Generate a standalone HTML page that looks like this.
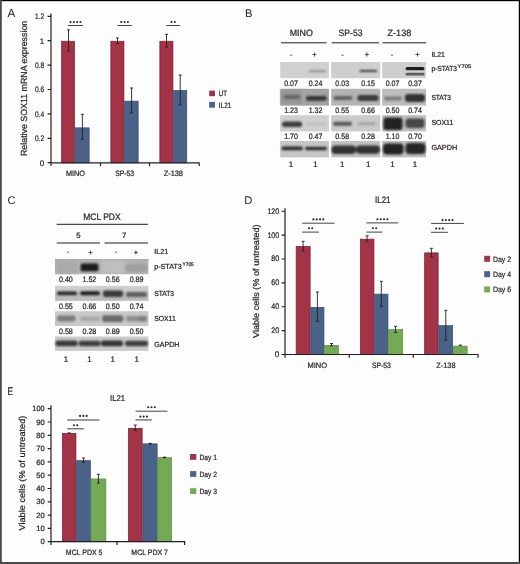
<!DOCTYPE html>
<html><head><meta charset="utf-8">
<style>
html,body{margin:0;padding:0;background:#fff;}
body{width:520px;height:564px;overflow:hidden;}
svg{display:block;font-family:"Liberation Sans",sans-serif;will-change:transform;text-rendering:geometricPrecision;}
svg text{fill:#231f20;stroke:#231f20;stroke-width:0.22px;}
svg text.pl{stroke:none;}
</style></head>
<body>
<svg width="520" height="564" viewBox="0 0 520 564">
<defs>
<filter id="bl" x="-20%" y="-50%" width="140%" height="200%"><feGaussianBlur stdDeviation="1"/></filter>
<filter id="bl2" x="-20%" y="-50%" width="140%" height="200%"><feGaussianBlur stdDeviation="0.6"/></filter>
</defs>
<rect x="0" y="0" width="520" height="564" fill="#fdfdfd"/>
<rect x="0" y="0" width="520" height="1.2" fill="#000"/>
<rect x="518.8" y="0" width="1.2" height="564" fill="#000"/>
<rect x="0" y="0" width="1.8" height="564" fill="#4a4a4a"/>
<rect x="0" y="562" width="520" height="2" fill="#4a4a4a"/>

<g id="A">
<text x="7.6" y="16.9" font-size="11.6" class="pl">A</text>
<rect x="61.55" y="41.25" width="13.0" height="121.55" fill="#a33346" stroke="#7f1d2f" stroke-width="0.7"/>
<rect x="110.85" y="41.25" width="13.1" height="121.55" fill="#a33346" stroke="#7f1d2f" stroke-width="0.7"/>
<rect x="159.85" y="41.25" width="13.1" height="121.55" fill="#a33346" stroke="#7f1d2f" stroke-width="0.7"/>
<rect x="75.25" y="127.85" width="13.9" height="34.95" fill="#4b6288" stroke="#364b70" stroke-width="0.7"/>
<rect x="124.65" y="101.15" width="13.5" height="61.65" fill="#4b6288" stroke="#364b70" stroke-width="0.7"/>
<rect x="173.65" y="90.55" width="13.1" height="72.25" fill="#4b6288" stroke="#364b70" stroke-width="0.7"/>
<path d="M51 13.4V163.4M47.6 16.3H51M47.6 40.7H51M47.6 65.1H51M47.6 89.5H51M47.6 113.9H51M47.6 138.3H51M47.6 162.7H51M50.4 162.8H199.8M51 162.8V166M100.5 162.8V166M149.5 162.8V166M199.2 162.8V166" stroke="#231f20" stroke-width="1.2" fill="none"/>
<path d="M68.5 29.8V51M67.0 29.8H70.0M67.0 51H70.0M82.4 114.3V139.3M80.9 114.3H83.9M80.9 139.3H83.9M117.5 38V43.6M116.0 38H119.0M116.0 43.6H119.0M131.6 88V113M130.1 88H133.1M130.1 113H133.1M166.5 34.3V47M165.0 34.3H168.0M165.0 47H168.0M180.2 75V105M178.7 75H181.7M178.7 105H181.7" stroke="#231f20" stroke-width="0.9" fill="none"/>
<path d="M68.1 25.5H82.9" stroke="#444" stroke-width="1.0"/><g fill="#262626"><circle cx="70.55" cy="22" r="1.05"/><circle cx="73.85" cy="22" r="1.05"/><circle cx="77.15" cy="22" r="1.05"/><circle cx="80.45" cy="22" r="1.05"/></g>
<path d="M117.3 25.5H131.8" stroke="#444" stroke-width="1.0"/><g fill="#262626"><circle cx="121.25" cy="22" r="1.05"/><circle cx="124.55" cy="22" r="1.05"/><circle cx="127.85" cy="22" r="1.05"/></g>
<path d="M166.3 25.5H180.1" stroke="#444" stroke-width="1.0"/><g fill="#262626"><circle cx="171.55" cy="22" r="1.05"/><circle cx="174.85" cy="22" r="1.05"/></g>
<g font-size="8" text-anchor="end">
<text x="44.2" y="19.1" font-size="8" textLength="9.2" lengthAdjust="spacingAndGlyphs">1.2</text>
<text x="44.2" y="43.5" font-size="8">1</text>
<text x="44.2" y="67.9" font-size="8" textLength="9.2" lengthAdjust="spacingAndGlyphs">0.8</text>
<text x="44.2" y="92.3" font-size="8" textLength="9.2" lengthAdjust="spacingAndGlyphs">0.6</text>
<text x="44.2" y="116.7" font-size="8" textLength="9.2" lengthAdjust="spacingAndGlyphs">0.4</text>
<text x="44.2" y="141.1" font-size="8" textLength="9.2" lengthAdjust="spacingAndGlyphs">0.2</text>
<text x="44.2" y="165.5" font-size="8">0</text>
</g>
<text transform="translate(27.3 156) rotate(-90)" font-size="8.9" textLength="135.2" lengthAdjust="spacingAndGlyphs">Relative SOX11 mRNA expression</text>
<text x="65.9" y="176.2" font-size="7.8" textLength="19.1" lengthAdjust="spacingAndGlyphs">MINO</text>
<text x="115.2" y="176.2" font-size="7.8" textLength="18.8" lengthAdjust="spacingAndGlyphs">SP-53</text>
<text x="163.7" y="176.2" font-size="7.8" textLength="19.3" lengthAdjust="spacingAndGlyphs">Z-138</text>
<rect x="209.2" y="90.6" width="5.8" height="5.6" fill="#a33346"/>
<rect x="209.2" y="101.9" width="5.8" height="5.8" fill="#4b6288"/>
<text x="218.8" y="96.2" font-size="7.8" textLength="8.2" lengthAdjust="spacingAndGlyphs">UT</text>
<text x="218.8" y="107.6" font-size="7.8" textLength="12.6" lengthAdjust="spacingAndGlyphs">IL21</text>
</g>
<g id="B">
<text x="245" y="17.3" font-size="11.2" class="pl">B</text>
<text x="289.7" y="35.5" font-size="9.2" textLength="23.1" lengthAdjust="spacingAndGlyphs">MINO</text>
<text x="338.6" y="35.5" font-size="9.2" textLength="24" lengthAdjust="spacingAndGlyphs">SP-53</text>
<text x="387.5" y="35.5" font-size="9.2" textLength="23.8" lengthAdjust="spacingAndGlyphs">Z-138</text>
<path d="M281 42.8H326.6M331.7 42.8H379M382.5 42.8H426.2" stroke="#231f20" stroke-width="1"/>
<text x="291.2" y="56.5" font-size="7.4" text-anchor="middle">-</text>
<text x="314.3" y="57" font-size="7.4" text-anchor="middle">+</text>
<text x="342.4" y="56.5" font-size="7.4" text-anchor="middle">-</text>
<text x="366.9" y="57" font-size="7.4" text-anchor="middle">+</text>
<text x="392" y="56.5" font-size="7.4" text-anchor="middle">-</text>
<text x="417.5" y="57" font-size="7.4" text-anchor="middle">+</text>
<text x="431.4" y="56.7" font-size="7.3" textLength="13.6" lengthAdjust="spacingAndGlyphs">IL21</text>
<text x="431.4" y="71" font-size="7.3" textLength="25.5" lengthAdjust="spacingAndGlyphs">p-STAT3</text>
<text x="457.6" y="67.7" font-size="5.2" textLength="13.6" lengthAdjust="spacingAndGlyphs">Y705</text>
<text x="431.4" y="100.3" font-size="7.3" textLength="19.6" lengthAdjust="spacingAndGlyphs">STAT3</text>
<text x="431.4" y="124.7" font-size="7.3" textLength="21.9" lengthAdjust="spacingAndGlyphs">SOX11</text>
<text x="431.4" y="150.4" font-size="7.3" textLength="25.8" lengthAdjust="spacingAndGlyphs">GAPDH</text>
<rect x="280.2" y="62" width="48.7" height="16.2" fill="#d0d0d0"/>
<rect x="331.2" y="62" width="49" height="16.2" fill="#cecece"/>
<rect x="382.2" y="62" width="43.8" height="16.2" fill="#cecece"/>
<rect x="280.2" y="88.8" width="48.7" height="16.8" fill="#a2a2a2"/>
<rect x="331.2" y="88.8" width="49" height="16.8" fill="#b4b4b4"/>
<rect x="382.2" y="88.8" width="43.8" height="16.8" fill="#bdbdbd"/>
<rect x="280.2" y="115.2" width="48.7" height="16.2" fill="#cfcfcf"/>
<rect x="331.2" y="115.2" width="49" height="16.2" fill="#cacaca"/>
<rect x="382.2" y="115.2" width="43.8" height="16.2" fill="#c0c0c0"/>
<rect x="280.2" y="141" width="48.7" height="16.4" fill="#c6c6c6"/>
<rect x="331.2" y="141" width="49" height="16.4" fill="#c2c2c2"/>
<rect x="382.2" y="141" width="43.8" height="16.4" fill="#bfbfbf"/>
<g filter="url(#bl)">
<rect x="308.5" y="70.2" width="17.5" height="2" rx="1" fill="#8a8a8a"/>
<rect x="359.5" y="70" width="17.5" height="2" rx="1" fill="#3a3a3a"/>
</g>
<g filter="url(#bl2)">
<rect x="405.6" y="66.9" width="18.8" height="3.3" rx="1.5" fill="#1c1c1c"/>
<rect x="405.6" y="72.8" width="18.8" height="2.6" rx="1.2" fill="#5c5c5c"/>
</g>
<g filter="url(#bl)">
<rect x="281" y="90" width="22" height="14" fill="#969696"/>
<rect x="283.5" y="94.8" width="17" height="4.4" rx="2" fill="#686868"/>
<rect x="302.6" y="89" width="1.2" height="16" fill="#b2b2b2"/>
<rect x="305.8" y="96" width="21" height="4.8" rx="2.2" fill="#363636"/>
<rect x="333.5" y="96" width="19" height="4" rx="2" fill="#5e5e5e"/>
<rect x="357.5" y="95" width="21" height="6" rx="2.5" fill="#3a3a3a"/>
<rect x="384" y="96.5" width="18" height="4" rx="2" fill="#7a7a7a"/>
<rect x="405" y="94" width="20" height="8" rx="3" fill="#333"/>
<rect x="282" y="121.5" width="20" height="5.5" rx="2.5" fill="#3e3e3e"/>
<rect x="306" y="122.5" width="20" height="3" rx="1.5" fill="#c0c0c0"/>
<rect x="333" y="121.8" width="19" height="4" rx="2" fill="#555"/>
<rect x="358" y="122.3" width="18" height="3" rx="1.5" fill="#a4a4a4"/>
<rect x="383.5" y="117.5" width="19" height="12.5" rx="3" fill="#222"/>
<rect x="405.5" y="118.5" width="19" height="9.5" rx="3" fill="#474747"/>
<rect x="281.5" y="146.5" width="21.5" height="3.7" rx="1.8" fill="#2e2e2e"/>
<rect x="305" y="146.7" width="22" height="3.5" rx="1.7" fill="#2e2e2e"/>
<rect x="331.5" y="145.6" width="24.5" height="8.4" rx="4" fill="#333"/>
<rect x="356" y="145.4" width="24" height="8.4" rx="4" fill="#333"/>
<rect x="383" y="143.5" width="20.5" height="11" rx="4" fill="#222"/>
<rect x="405.5" y="143" width="20" height="11" rx="4" fill="#262626"/>
</g>
<text x="291" y="85.7" font-size="7.9" textLength="13.7" lengthAdjust="spacingAndGlyphs" text-anchor="middle">0.07</text>
<text x="315.5" y="85.7" font-size="7.9" textLength="13.7" lengthAdjust="spacingAndGlyphs" text-anchor="middle">0.24</text>
<text x="342.2" y="85.7" font-size="7.9" textLength="13.7" lengthAdjust="spacingAndGlyphs" text-anchor="middle">0.03</text>
<text x="368.1" y="85.7" font-size="7.9" textLength="13.7" lengthAdjust="spacingAndGlyphs" text-anchor="middle">0.15</text>
<text x="392.5" y="85.7" font-size="7.9" textLength="13.7" lengthAdjust="spacingAndGlyphs" text-anchor="middle">0.07</text>
<text x="415" y="85.7" font-size="7.9" textLength="13.7" lengthAdjust="spacingAndGlyphs" text-anchor="middle">0.37</text>
<text x="291" y="113.4" font-size="7.9" textLength="13.7" lengthAdjust="spacingAndGlyphs" text-anchor="middle">1.23</text>
<text x="315.5" y="113.4" font-size="7.9" textLength="13.7" lengthAdjust="spacingAndGlyphs" text-anchor="middle">1.32</text>
<text x="342.2" y="113.4" font-size="7.9" textLength="13.7" lengthAdjust="spacingAndGlyphs" text-anchor="middle">0.55</text>
<text x="368.1" y="113.4" font-size="7.9" textLength="13.7" lengthAdjust="spacingAndGlyphs" text-anchor="middle">0.66</text>
<text x="392.5" y="113.4" font-size="7.9" textLength="13.7" lengthAdjust="spacingAndGlyphs" text-anchor="middle">0.50</text>
<text x="415" y="113.4" font-size="7.9" textLength="13.7" lengthAdjust="spacingAndGlyphs" text-anchor="middle">0.74</text>
<text x="291" y="138.7" font-size="7.9" textLength="13.7" lengthAdjust="spacingAndGlyphs" text-anchor="middle">1.70</text>
<text x="315.5" y="138.7" font-size="7.9" textLength="13.7" lengthAdjust="spacingAndGlyphs" text-anchor="middle">0.47</text>
<text x="342.2" y="138.7" font-size="7.9" textLength="13.7" lengthAdjust="spacingAndGlyphs" text-anchor="middle">0.58</text>
<text x="368.1" y="138.7" font-size="7.9" textLength="13.7" lengthAdjust="spacingAndGlyphs" text-anchor="middle">0.28</text>
<text x="392.5" y="138.7" font-size="7.9" textLength="13.7" lengthAdjust="spacingAndGlyphs" text-anchor="middle">1.10</text>
<text x="415" y="138.7" font-size="7.9" textLength="13.7" lengthAdjust="spacingAndGlyphs" text-anchor="middle">0.70</text>
<text x="291" y="167" font-size="7.9" text-anchor="middle">1</text>
<text x="315.5" y="167" font-size="7.9" text-anchor="middle">1</text>
<text x="342.2" y="167" font-size="7.9" text-anchor="middle">1</text>
<text x="368.1" y="167" font-size="7.9" text-anchor="middle">1</text>
<text x="392.5" y="167" font-size="7.9" text-anchor="middle">1</text>
<text x="415" y="167" font-size="7.9" text-anchor="middle">1</text>
</g>
<g id="C">
<text x="7.6" y="204.3" font-size="11.2" class="pl">C</text>
<text x="83.2" y="219.6" font-size="9.4" textLength="37.5" lengthAdjust="spacingAndGlyphs">MCL PDX</text>
<path d="M56.7 224.3H148M56.7 243H100M104.5 243H148" stroke="#231f20" stroke-width="1"/>
<text x="78.3" y="237.8" font-size="7.8" text-anchor="middle">5</text>
<text x="124.2" y="237.8" font-size="7.8" text-anchor="middle">7</text>
<text x="68" y="254.1" font-size="7.4" text-anchor="middle">-</text>
<text x="90.4" y="254.6" font-size="7.4" text-anchor="middle">+</text>
<text x="116.1" y="254.1" font-size="7.4" text-anchor="middle">-</text>
<text x="136" y="254.6" font-size="7.4" text-anchor="middle">+</text>
<text x="154.2" y="254.3" font-size="7.3" textLength="14" lengthAdjust="spacingAndGlyphs">IL21</text>
<text x="154.2" y="269.2" font-size="7.3" textLength="27.6" lengthAdjust="spacingAndGlyphs">p-STAT3</text>
<text x="182.5" y="266.1" font-size="5.2" textLength="11.3" lengthAdjust="spacingAndGlyphs">Y705</text>
<text x="154.2" y="296.4" font-size="7.3" textLength="19.8" lengthAdjust="spacingAndGlyphs">STAT3</text>
<text x="154.2" y="321.2" font-size="7.3" textLength="21.5" lengthAdjust="spacingAndGlyphs">SOX11</text>
<text x="154.2" y="346.5" font-size="7.3" textLength="25.2" lengthAdjust="spacingAndGlyphs">GAPDH</text>
<linearGradient id="gC2" x1="0" y1="0" x2="0" y2="1"><stop offset="0" stop-color="#d2d2d2"/><stop offset="1" stop-color="#b9b9b9"/></linearGradient>
<rect x="55" y="259.2" width="93.4" height="15" fill="#b5b5b5"/>
<rect x="55" y="259.2" width="93.4" height="1.2" fill="#a9a9a9"/>
<rect x="55" y="285.8" width="93.4" height="15" fill="url(#gC2)"/>
<rect x="55" y="311.2" width="93.4" height="14.8" fill="#c9c9c9"/>
<rect x="55" y="336.5" width="93.4" height="14.5" fill="#cbcbcb"/>
<g filter="url(#bl)">
<rect x="56" y="260.5" width="22" height="13" fill="#ababab"/>
<rect x="80.6" y="263.6" width="17.8" height="7.6" rx="1.5" fill="#1a1a1a"/>
<rect x="104" y="261" width="20" height="12" fill="#bfbfbf"/>
<rect x="125.5" y="263.8" width="21.5" height="8.4" rx="3" fill="#a0a0a0"/>
<rect x="57" y="291.5" width="20" height="3.8" rx="1.5" fill="#262626"/>
<rect x="80" y="291.2" width="20" height="4" rx="1.8" fill="#1e1e1e"/>
<rect x="103" y="290.5" width="20" height="6.5" rx="2" fill="#3a3a3a"/>
<rect x="126" y="292" width="21" height="5" rx="2" fill="#5e5e5e"/>
<rect x="57" y="315.6" width="18.5" height="5.8" rx="2.5" fill="#7a7a7a"/>
<rect x="80" y="316.5" width="20" height="4.5" rx="2" fill="#a8a8a8"/>
<rect x="102" y="315.2" width="21.5" height="6.8" rx="3" fill="#6a6a6a"/>
<rect x="126" y="316" width="21" height="5.5" rx="2.5" fill="#8e8e8e"/>
<rect x="138" y="316" width="9" height="5.5" rx="2.5" fill="#808080"/>
<rect x="55.5" y="340.6" width="22" height="5.6" rx="2.5" fill="#383838"/>
<rect x="78.5" y="340.8" width="22" height="5.4" rx="2.5" fill="#3e3e3e"/>
<rect x="101" y="340.4" width="22" height="5.9" rx="2.5" fill="#333"/>
<rect x="125" y="340.8" width="23" height="5.4" rx="2.5" fill="#3e3e3e"/>
</g>
<rect x="102.4" y="259.2" width="1" height="15" fill="#c9c9c9" opacity="0.7"/>
<text x="65.9" y="281.8" font-size="7.9" textLength="13.9" lengthAdjust="spacingAndGlyphs" text-anchor="middle">0.40</text>
<text x="89.4" y="281.8" font-size="7.9" textLength="13.9" lengthAdjust="spacingAndGlyphs" text-anchor="middle">1.52</text>
<text x="112.8" y="281.8" font-size="7.9" textLength="13.9" lengthAdjust="spacingAndGlyphs" text-anchor="middle">0.56</text>
<text x="136.6" y="281.8" font-size="7.9" textLength="13.9" lengthAdjust="spacingAndGlyphs" text-anchor="middle">0.89</text>
<text x="65.9" y="309" font-size="7.9" textLength="13.9" lengthAdjust="spacingAndGlyphs" text-anchor="middle">0.55</text>
<text x="89.4" y="309" font-size="7.9" textLength="13.9" lengthAdjust="spacingAndGlyphs" text-anchor="middle">0.66</text>
<text x="112.8" y="309" font-size="7.9" textLength="13.9" lengthAdjust="spacingAndGlyphs" text-anchor="middle">0.50</text>
<text x="136.6" y="309" font-size="7.9" textLength="13.9" lengthAdjust="spacingAndGlyphs" text-anchor="middle">0.74</text>
<text x="65.9" y="333.8" font-size="7.9" textLength="13.9" lengthAdjust="spacingAndGlyphs" text-anchor="middle">0.58</text>
<text x="89.4" y="333.8" font-size="7.9" textLength="13.9" lengthAdjust="spacingAndGlyphs" text-anchor="middle">0.28</text>
<text x="112.8" y="333.8" font-size="7.9" textLength="13.9" lengthAdjust="spacingAndGlyphs" text-anchor="middle">0.89</text>
<text x="136.6" y="333.8" font-size="7.9" textLength="13.9" lengthAdjust="spacingAndGlyphs" text-anchor="middle">0.50</text>
<text x="65.9" y="361.5" font-size="7.9" text-anchor="middle">1</text>
<text x="89.4" y="361.5" font-size="7.9" text-anchor="middle">1</text>
<text x="112.8" y="361.5" font-size="7.9" text-anchor="middle">1</text>
<text x="136.6" y="361.5" font-size="7.9" text-anchor="middle">1</text>
</g>
<g id="D">
<text x="244.3" y="203.8" font-size="11.2" class="pl">D</text>
<text x="375" y="203.1" font-size="9.4" textLength="15.5" lengthAdjust="spacingAndGlyphs">IL21</text>
<rect x="296.15" y="246.35" width="14.0" height="108.15" fill="#a33346" stroke="#7f1d2f" stroke-width="0.7"/>
<rect x="310.85" y="307.35" width="13.1" height="47.15" fill="#4b6288" stroke="#364b70" stroke-width="0.7"/>
<rect x="324.65" y="345.35" width="13.8" height="9.15" fill="#74a955" stroke="#5a8f3b" stroke-width="0.7"/>
<rect x="360.35" y="239.15" width="13.6" height="115.35" fill="#a33346" stroke="#7f1d2f" stroke-width="0.7"/>
<rect x="374.65" y="294.15" width="13.3" height="60.35" fill="#4b6288" stroke="#364b70" stroke-width="0.7"/>
<rect x="388.65" y="329.65" width="14.0" height="24.85" fill="#74a955" stroke="#5a8f3b" stroke-width="0.7"/>
<rect x="424.65" y="252.85" width="13.5" height="101.65" fill="#a33346" stroke="#7f1d2f" stroke-width="0.7"/>
<rect x="438.85" y="325.65" width="13.8" height="28.85" fill="#4b6288" stroke="#364b70" stroke-width="0.7"/>
<rect x="453.35" y="346.15" width="13.8" height="8.35" fill="#74a955" stroke="#5a8f3b" stroke-width="0.7"/>
<path d="M285 208.3V355.1M281.6 211.25H285M281.6 235.12H285M281.6 259.0H285M281.6 282.88H285M281.6 306.75H285M281.6 330.62H285M281.6 354.5H285M284.4 354.5H478.6M285 354.5V357.8M349.3 354.5V357.8M413.3 354.5V357.8M478 354.5V357.8" stroke="#231f20" stroke-width="1.2" fill="none"/>
<path d="M303.1 241.3V251M301.6 241.3H304.6M301.6 251H304.6M317.4 292V321.3M315.9 292H318.9M315.9 321.3H318.9M331.5 343.5V345.8M330.0 343.5H333.0M330.0 345.8H333.0M367.1 235.8V241.3M365.6 235.8H368.6M365.6 241.3H368.6M381.3 281.3V306.3M379.8 281.3H382.8M379.8 306.3H382.8M395.6 326.3V332.5M394.1 326.3H397.1M394.1 332.5H397.1M431.4 248.3V257M429.9 248.3H432.9M429.9 257H432.9M445.8 310.3V340M444.3 310.3H447.3M444.3 340H447.3" stroke="#231f20" stroke-width="0.9" fill="none"/><rect x="458.8" y="344.6" width="3.0" height="1.2" fill="#1a1a1a"/>
<path d="M302.2 223.2H334.5" stroke="#444" stroke-width="1.0"/><g fill="#262626"><circle cx="313.4" cy="219.4" r="1.05"/><circle cx="316.7" cy="219.4" r="1.05"/><circle cx="320.0" cy="219.4" r="1.05"/><circle cx="323.3" cy="219.4" r="1.05"/></g>
<path d="M302.2 232.1H318.9" stroke="#444" stroke-width="1.0"/><g fill="#262626"><circle cx="308.9" cy="228.2" r="1.05"/><circle cx="312.2" cy="228.2" r="1.05"/></g>
<path d="M366.5 222.9H398.3" stroke="#444" stroke-width="1.0"/><g fill="#262626"><circle cx="377.45" cy="219.2" r="1.05"/><circle cx="380.75" cy="219.2" r="1.05"/><circle cx="384.05" cy="219.2" r="1.05"/><circle cx="387.35" cy="219.2" r="1.05"/></g>
<path d="M366.5 232.1H382.5" stroke="#444" stroke-width="1.0"/><g fill="#262626"><circle cx="372.85" cy="228.2" r="1.05"/><circle cx="376.15" cy="228.2" r="1.05"/></g>
<path d="M431.1 223.4H463.9" stroke="#444" stroke-width="1.0"/><g fill="#262626"><circle cx="442.55" cy="220.1" r="1.05"/><circle cx="445.85" cy="220.1" r="1.05"/><circle cx="449.15" cy="220.1" r="1.05"/><circle cx="452.45" cy="220.1" r="1.05"/></g>
<path d="M431.1 232.3H447.9" stroke="#444" stroke-width="1.0"/><g fill="#262626"><circle cx="436.2" cy="228.6" r="1.05"/><circle cx="439.5" cy="228.6" r="1.05"/><circle cx="442.8" cy="228.6" r="1.05"/></g>
<g text-anchor="end">
<text x="279.2" y="213.65" font-size="8.1" textLength="11.8" lengthAdjust="spacingAndGlyphs">120</text>
<text x="279.2" y="237.53" font-size="8.1" textLength="11.8" lengthAdjust="spacingAndGlyphs">100</text>
<text x="279.2" y="261.4" font-size="8.1" textLength="7.9" lengthAdjust="spacingAndGlyphs">80</text>
<text x="279.2" y="285.27" font-size="8.1" textLength="7.9" lengthAdjust="spacingAndGlyphs">60</text>
<text x="279.2" y="309.15" font-size="8.1" textLength="7.9" lengthAdjust="spacingAndGlyphs">40</text>
<text x="279.2" y="333.02" font-size="8.1" textLength="7.9" lengthAdjust="spacingAndGlyphs">20</text>
<text x="279.2" y="356.9" font-size="8.1">0</text>
</g>
<text transform="translate(258.6 338) rotate(-90)" font-size="8.6" textLength="113.6" lengthAdjust="spacingAndGlyphs">Viable cells (% of untreated)</text>
<text x="307.5" y="367.7" font-size="7.8" textLength="19.5" lengthAdjust="spacingAndGlyphs">MINO</text>
<text x="372" y="367.7" font-size="7.8" textLength="18.8" lengthAdjust="spacingAndGlyphs">SP-53</text>
<text x="436.3" y="367.7" font-size="7.8" textLength="19.2" lengthAdjust="spacingAndGlyphs">Z-138</text>
<rect x="484.2" y="255.8" width="5.9" height="6" fill="#a33346"/><rect x="484.2" y="271.2" width="5.9" height="6" fill="#4b6288"/><rect x="484.2" y="286.5" width="5.9" height="5.9" fill="#74a955"/>
<text x="493" y="261.6" font-size="7.8" textLength="18" lengthAdjust="spacingAndGlyphs">Day 2</text>
<text x="493" y="277" font-size="7.8" textLength="18" lengthAdjust="spacingAndGlyphs">Day 4</text>
<text x="493" y="292.3" font-size="7.8" textLength="18" lengthAdjust="spacingAndGlyphs">Day 6</text>
</g>
<g id="E">
<text x="7.6" y="395" font-size="11.2" textLength="5.6" lengthAdjust="spacingAndGlyphs">E</text>
<text x="110" y="401.3" font-size="8.4" textLength="15" lengthAdjust="spacingAndGlyphs">IL21</text>
<rect x="62.35" y="433.35" width="13.6" height="108.35" fill="#a33346" stroke="#7f1d2f" stroke-width="0.7"/>
<rect x="76.65" y="460.65" width="13.8" height="81.05" fill="#4b6288" stroke="#364b70" stroke-width="0.7"/>
<rect x="91.15" y="478.95" width="14.7" height="62.75" fill="#74a955" stroke="#5a8f3b" stroke-width="0.7"/>
<rect x="128.35" y="428.35" width="13.8" height="113.35" fill="#a33346" stroke="#7f1d2f" stroke-width="0.7"/>
<rect x="142.85" y="443.85" width="14.3" height="97.85" fill="#4b6288" stroke="#364b70" stroke-width="0.7"/>
<rect x="157.85" y="457.65" width="13.8" height="84.05" fill="#74a955" stroke="#5a8f3b" stroke-width="0.7"/>
<path d="M51 405.3V542.3M47.7 408.7H51M47.7 422.0H51M47.7 435.3H51M47.7 448.6H51M47.7 461.9H51M47.7 475.2H51M47.7 488.5H51M47.7 501.8H51M47.7 515.1H51M47.7 528.4H51M47.7 541.7H51M50.4 541.7H185.2M51 541.7V545M117 541.7V545M184.6 541.7V545" stroke="#231f20" stroke-width="1.2" fill="none"/>
<path d="M83.5 458V462.5M82.0 458H85.0M82.0 462.5H85.0M98.4 474.3V483M96.9 474.3H99.9M96.9 483H99.9M135.3 425V430.3M133.8 425H136.8M133.8 430.3H136.8" stroke="#231f20" stroke-width="0.9" fill="none"/><rect x="67.6" y="432.4" width="3.0" height="1.2" fill="#1a1a1a"/><rect x="148.6" y="442.9" width="3.0" height="1.4" fill="#1a1a1a"/><rect x="162.9" y="456.7" width="3.0" height="1.4" fill="#1a1a1a"/>
<path d="M67.3 419.9H99.4" stroke="#7a7a7a" stroke-width="1.5"/><g fill="#262626"><circle cx="80.05" cy="415.9" r="1.05"/><circle cx="83.35" cy="415.9" r="1.05"/><circle cx="86.65" cy="415.9" r="1.05"/></g>
<path d="M67.3 428.75H83.8" stroke="#7a7a7a" stroke-width="1.5"/><g fill="#262626"><circle cx="73.9" cy="425.2" r="1.05"/><circle cx="77.2" cy="425.2" r="1.05"/></g>
<path d="M135.5 411.2H167.5" stroke="#444" stroke-width="1.0"/><g fill="#262626"><circle cx="148.2" cy="407.3" r="1.05"/><circle cx="151.5" cy="407.3" r="1.05"/><circle cx="154.8" cy="407.3" r="1.05"/></g>
<path d="M135.5 419.9H151.8" stroke="#7a7a7a" stroke-width="1.5"/><g fill="#262626"><circle cx="140.35" cy="416.6" r="1.05"/><circle cx="143.65" cy="416.6" r="1.05"/><circle cx="146.95" cy="416.6" r="1.05"/></g>
<g text-anchor="end">
<text x="44.7" y="411.3" font-size="7.7" textLength="12.4" lengthAdjust="spacingAndGlyphs">100</text>
<text x="44.7" y="424.6" font-size="7.7">90</text>
<text x="44.7" y="437.9" font-size="7.7">80</text>
<text x="44.7" y="451.2" font-size="7.7">70</text>
<text x="44.7" y="464.5" font-size="7.7">60</text>
<text x="44.7" y="477.8" font-size="7.7">50</text>
<text x="44.7" y="491.1" font-size="7.7">40</text>
<text x="44.7" y="504.4" font-size="7.7">30</text>
<text x="44.7" y="517.7" font-size="7.7">20</text>
<text x="44.7" y="531.0" font-size="7.7">10</text>
<text x="44.7" y="544.3" font-size="7.7">0</text>
</g>
<text transform="translate(25 530.6) rotate(-90)" font-size="8.6" textLength="115" lengthAdjust="spacingAndGlyphs">Viable cells (% of untreated)</text>
<text x="65.8" y="554.8" font-size="7.8" textLength="36.7" lengthAdjust="spacingAndGlyphs">MCL PDX 5</text>
<text x="131.3" y="554.8" font-size="7.8" textLength="36.7" lengthAdjust="spacingAndGlyphs">MCL PDX 7</text>
<rect x="190.1" y="454" width="6.2" height="5.8" fill="#a33346"/><rect x="190.1" y="471.1" width="6.2" height="5.8" fill="#4b6288"/><rect x="190.1" y="488.2" width="6.2" height="5.8" fill="#74a955"/>
<text x="199.4" y="459.5" font-size="7.6" textLength="17.6" lengthAdjust="spacingAndGlyphs">Day 1</text>
<text x="199.4" y="476.6" font-size="7.6" textLength="17.6" lengthAdjust="spacingAndGlyphs">Day 2</text>
<text x="199.4" y="493.7" font-size="7.6" textLength="17.6" lengthAdjust="spacingAndGlyphs">Day 3</text>
</g>
</svg>
</body></html>
